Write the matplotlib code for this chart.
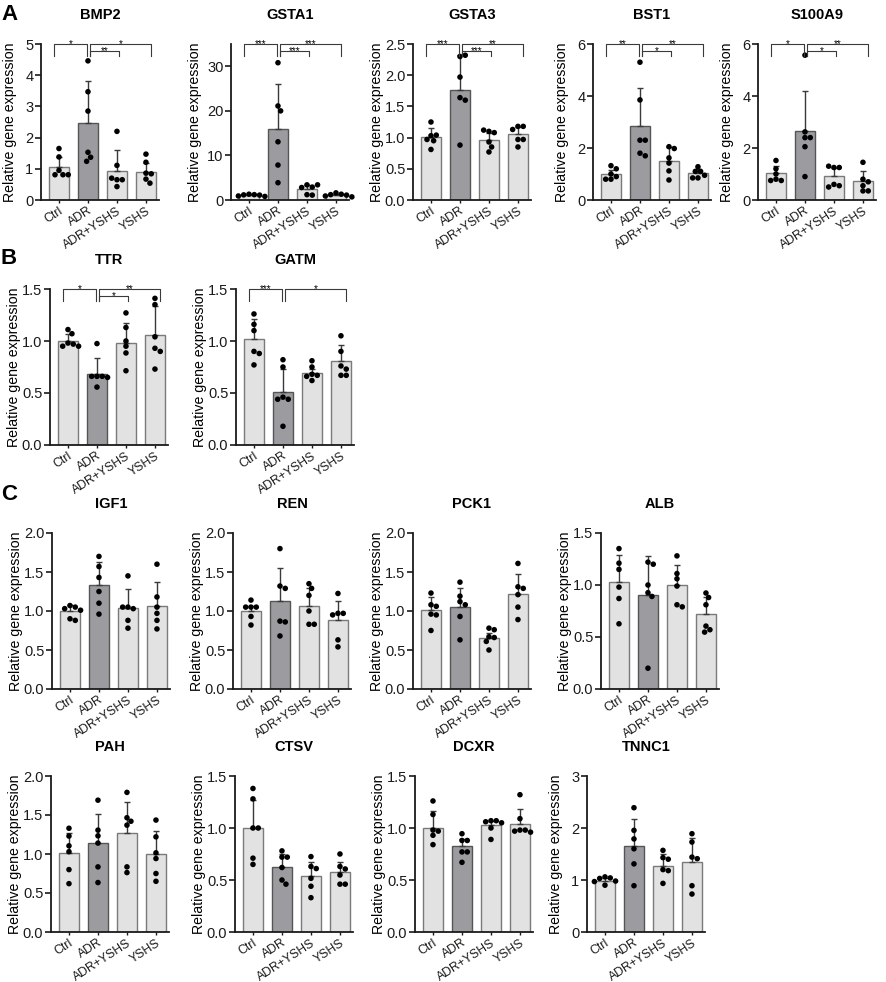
import numpy as np
import matplotlib
matplotlib.use('Agg')
import matplotlib.pyplot as plt
import matplotlib.transforms as mtransforms

plt.rcParams['font.family'] = ['Liberation Sans', 'DejaVu Sans']

groups = ['Ctrl', 'ADR', 'ADR+YSHS', 'YSHS']

# ---------------- data ----------------
BMP2_pts = [[1.65, 1.38, 0.95, 0.81, 0.81, 0.81],
            [4.46, 3.47, 2.85, 1.53, 1.37, 1.24],
            [2.20, 1.11, 0.65, 0.65, 0.70, 0.43],
            [1.47, 1.21, 0.86, 0.84, 0.67, 0.54]]
BMP2_mean = [1.05, 2.47, 0.94, 0.91]
BMP2_sd = [0.32, 1.33, 0.66, 0.29]

GSTA1_pts = [[1.3, 1.2, 1.15, 1.1, 0.9, 0.8],
             [30.8, 21.1, 20.0, 13.06, 7.84, 3.88],
             [3.4, 2.9, 2.8, 3.4, 1.2, 1.1],
             [1.6, 1.3, 1.2, 1.1, 0.9, 0.7]]
GSTA1_mean = [1.08, 15.97, 2.39, 1.10]
GSTA1_sd = [0.2, 10.0, 1.0, 0.3]

GSTA3_pts = [[1.25, 1.03, 1.04, 0.97, 0.81, 0.95],
             [2.30, 2.32, 1.97, 1.64, 1.60, 0.88],
             [1.10, 1.08, 1.12, 0.93, 0.85, 0.77],
             [1.18, 1.18, 1.13, 0.97, 0.97, 0.85]]
GSTA3_mean = [1.01, 1.77, 0.96, 1.05]
GSTA3_sd = [0.15, 0.56, 0.11, 0.12]

BST1_pts = [[1.32, 1.2, 1.0, 0.9, 0.8, 0.8],
            [5.3, 3.85, 2.3, 2.3, 1.8, 1.7],
            [2.05, 1.98, 1.62, 1.42, 1.12, 0.77],
            [1.28, 1.1, 1.1, 0.95, 0.85, 0.85]]
BST1_mean = [1.0, 2.85, 1.5, 1.02]
BST1_sd = [0.17, 1.45, 0.53, 0.18]

S100A9_pts = [[1.52, 1.2, 1.0, 0.8, 0.75, 0.75],
              [5.57, 2.62, 2.4, 2.4, 2.05, 0.9],
              [1.25, 1.25, 1.3, 0.6, 0.55, 0.5],
              [1.45, 0.8, 0.7, 0.55, 0.35, 0.35]]
S100A9_mean = [1.05, 2.65, 0.93, 0.72]
S100A9_sd = [0.27, 1.55, 0.30, 0.40]

TTR_pts = [[1.11, 1.07, 0.98, 0.97, 0.95, 0.95],
           [0.975, 0.66, 0.66, 0.66, 0.65, 0.557],
           [1.27, 1.13, 1.0, 0.95, 0.885, 0.714],
           [1.41, 1.35, 1.04, 0.93, 0.9, 0.73]]
TTR_mean = [1.0, 0.68, 0.985, 1.062]
TTR_sd = [0.07, 0.16, 0.19, 0.27]

GATM_pts = [[1.26, 1.16, 1.1, 0.9, 0.88, 0.77],
            [0.82, 0.75, 0.46, 0.44, 0.44, 0.18],
            [0.81, 0.75, 0.68, 0.67, 0.66, 0.62],
            [1.05, 0.9, 0.76, 0.73, 0.67, 0.67]]
GATM_mean = [1.017, 0.51, 0.69, 0.81]
GATM_sd = [0.19, 0.22, 0.04, 0.15]

IGF1_pts = [[1.07, 1.05, 1.03, 1.01, 0.9, 0.88],
            [1.70, 1.57, 1.43, 1.25, 1.1, 0.96],
            [1.45, 1.05, 1.03, 1.05, 0.88, 0.78],
            [1.6, 1.18, 1.05, 0.97, 0.88, 0.77]]
IGF1_mean = [1.0, 1.336, 1.04, 1.07]
IGF1_sd = [0.08, 0.29, 0.24, 0.30]

REN_pts = [[1.14, 1.05, 1.05, 1.05, 0.93, 0.82],
           [1.8, 1.32, 1.29, 0.87, 0.86, 0.68],
           [1.35, 1.29, 1.2, 1.0, 0.83, 0.83],
           [1.225, 0.97, 0.97, 0.95, 0.63, 0.54]]
REN_mean = [1.0, 1.13, 1.07, 0.88]
REN_sd = [0.07, 0.42, 0.23, 0.25]

PCK1_pts = [[1.23, 1.08, 1.06, 0.96, 0.75, 0.95],
            [1.37, 1.19, 1.12, 1.08, 0.93, 0.63],
            [0.78, 0.76, 0.67, 0.66, 0.61, 0.5],
            [1.61, 1.31, 1.29, 1.21, 1.05, 0.89]]
PCK1_mean = [1.015, 1.05, 0.65, 1.22]
PCK1_sd = [0.16, 0.25, 0.07, 0.26]

ALB_pts = [[1.35, 1.21, 1.15, 0.98, 0.87, 0.627],
           [1.22, 1.2, 1.0, 0.926, 0.89, 0.2],
           [1.28, 1.11, 1.06, 0.99, 0.81, 0.79],
           [0.923, 0.88, 0.81, 0.605, 0.57, 0.547]]
ALB_mean = [1.03, 0.907, 1.0, 0.717]
ALB_sd = [0.26, 0.37, 0.19, 0.167]

PAH_pts = [[1.33, 1.23, 1.105, 1.03, 0.8, 0.62],
           [1.69, 1.306, 1.233, 1.14, 0.835, 0.634],
           [1.79, 1.465, 1.42, 1.37, 0.835, 0.762],
           [1.435, 1.22, 1.015, 0.942, 0.75, 0.65]]
PAH_mean = [1.015, 1.135, 1.263, 0.994]
PAH_sd = [0.255, 0.372, 0.407, 0.299]

CTSV_pts = [[1.38, 1.28, 1.0, 1.0, 0.71, 0.65],
            [0.78, 0.72, 0.72, 0.62, 0.5, 0.46],
            [0.725, 0.63, 0.61, 0.516, 0.44, 0.33],
            [0.75, 0.63, 0.606, 0.548, 0.46, 0.46]]
CTSV_mean = [1.0, 0.623, 0.535, 0.574]
CTSV_sd = [0.274, 0.127, 0.142, 0.103]

DCXR_pts = [[1.26, 1.13, 0.98, 0.97, 0.93, 0.84],
            [0.945, 0.88, 0.88, 0.77, 0.77, 0.67],
            [1.07, 1.07, 1.06, 1.05, 1.0, 0.89],
            [1.32, 1.09, 0.98, 0.98, 0.97, 0.96]]
DCXR_mean = [1.0, 0.826, 1.026, 1.04]
DCXR_sd = [0.16, 0.07, 0.045, 0.147]

TNNC1_pts = [[1.06, 1.04, 1.03, 0.98, 0.97, 0.9],
             [2.39, 1.955, 1.79, 1.6, 1.31, 0.89],
             [1.57, 1.43, 1.40, 1.2, 1.18, 0.935],
             [1.89, 1.73, 1.44, 1.41, 0.89, 0.73]]
TNNC1_mean = [0.987, 1.65, 1.277, 1.34]
TNNC1_sd = [0.045, 0.53, 0.22, 0.466]

# y ticks (values and labels)
ticks_0_5 = ([0, 1, 2, 3, 4, 5], ['0', '1', '2', '3', '4', '5'])
ticks_0_30 = ([0, 10, 20, 30], ['0', '10', '20', '30'])
ticks_0_25 = ([0, 0.5, 1.0, 1.5, 2.0, 2.5], ['0.0', '0.5', '1.0', '1.5', '2.0', '2.5'])
ticks_0_6 = ([0, 2, 4, 6], ['0', '2', '4', '6'])
ticks_0_15 = ([0, 0.5, 1.0, 1.5], ['0.0', '0.5', '1.0', '1.5'])
ticks_0_20 = ([0, 0.5, 1.0, 1.5, 2.0], ['0.0', '0.5', '1.0', '1.5', '2.0'])
ticks_0_3 = ([0, 1, 2, 3], ['0', '1', '2', '3'])

# significance: (group i, group j, label, level)
BMP2_sig = [(0, 1, '*', 0), (1, 2, '**', 1), (1, 3, '*', 0)]
GSTA1_sig = [(0, 1, '***', 0), (1, 2, '***', 1), (1, 3, '***', 0)]
GSTA3_sig = [(0, 1, '***', 0), (1, 2, '***', 1), (1, 3, '**', 0)]
BST1_sig = [(0, 1, '**', 0), (1, 2, '*', 1), (1, 3, '**', 0)]
S100A9_sig = [(0, 1, '*', 0), (1, 2, '*', 1), (1, 3, '**', 0)]
TTR_sig = [(0, 1, '*', 0), (1, 2, '*', 1), (1, 3, '**', 0)]
GATM_sig = [(0, 1, '***', 0), (1, 3, '*', 0)]

# ---------------- layout ----------------
W, H = 886, 982
fig = plt.figure(figsize=(W / 100, H / 100), dpi=100)
AX_W, AX_H = 118, 156
XLIM = (-0.62, 3.45)

panels = [
    # name, pts, mean, sd, ticks, ytop, sig, x0 px, top px
    ('BMP2', BMP2_pts, BMP2_mean, BMP2_sd, ticks_0_5, 5, BMP2_sig, 41, 44),
    ('GSTA1', GSTA1_pts, GSTA1_mean, GSTA1_sd, ticks_0_30, 35, GSTA1_sig, 231, 44),
    ('GSTA3', GSTA3_pts, GSTA3_mean, GSTA3_sd, ticks_0_25, 2.5, GSTA3_sig, 413, 44),
    ('BST1', BST1_pts, BST1_mean, BST1_sd, ticks_0_6, 6, BST1_sig, 593, 44),
    ('S100A9', S100A9_pts, S100A9_mean, S100A9_sd, ticks_0_6, 6, S100A9_sig, 758, 44),
    ('TTR', TTR_pts, TTR_mean, TTR_sd, ticks_0_15, 1.5, TTR_sig, 50, 289),
    ('GATM', GATM_pts, GATM_mean, GATM_sd, ticks_0_15, 1.5, GATM_sig, 236, 289),
    ('IGF1', IGF1_pts, IGF1_mean, IGF1_sd, ticks_0_20, 2.0, [], 52, 533),
    ('REN', REN_pts, REN_mean, REN_sd, ticks_0_20, 2.0, [], 233, 533),
    ('PCK1', PCK1_pts, PCK1_mean, PCK1_sd, ticks_0_20, 2.0, [], 413, 533),
    ('ALB', ALB_pts, ALB_mean, ALB_sd, ticks_0_15, 1.5, [], 601, 533),
    ('PAH', PAH_pts, PAH_mean, PAH_sd, ticks_0_20, 2.0, [], 51, 776),
    ('CTSV', CTSV_pts, CTSV_mean, CTSV_sd, ticks_0_15, 1.5, [], 235, 776),
    ('DCXR', DCXR_pts, DCXR_mean, DCXR_sd, ticks_0_15, 1.5, [], 415, 776),
    ('TNNC1', TNNC1_pts, TNNC1_mean, TNNC1_sd, ticks_0_3, 3, [], 587, 776),
]

LIGHT = '#e2e2e2'
DARK = '#9c9ca0'
EDGE_L = '#7a7a7a'
EDGE_D = '#555555'
DOT_D = 5.3  # px


def swarm_offsets(vals, ppx, ppy, d=DOT_D):
    placed = []
    offs = []
    step = d / 4.0
    cands = [0.0]
    for k in range(1, 40):
        cands += [k * step, -k * step]
    for v in vals:
        yp = v * ppy
        for c in cands:
            ok = True
            for (qx, qy) in placed:
                if (c - qx) ** 2 + (yp - qy) ** 2 < (d * 0.98) ** 2:
                    ok = False
                    break
            if ok:
                break
        placed.append((c, yp))
        offs.append(c / ppx)
    return offs


def bx(k):
    return -0.17 + 1.12 * k


for (name, pts, mean, sd, ticks, ytop, sig, x0, top) in panels:
    ax = fig.add_axes([x0 / W, 1 - (top + AX_H) / H, AX_W / W, AX_H / H])
    ax.set_xlim(*XLIM)
    ax.set_ylim(0, ytop)
    xs = np.arange(len(groups))
    colors = [LIGHT, DARK, LIGHT, LIGHT]
    edges = [EDGE_L, EDGE_D, EDGE_L, EDGE_L]
    ax.bar(xs, mean, width=0.66, color=colors, edgecolor=edges, linewidth=1.0, zorder=2)
    ax.errorbar(xs, mean, yerr=[[0] * 4, sd], fmt='none', ecolor='#3a3a3a',
                elinewidth=1.0, capsize=2.3, capthick=1.0, zorder=3)
    ppx = AX_W / (XLIM[1] - XLIM[0])
    ppy = AX_H / ytop
    for i, g in enumerate(pts):
        offs = swarm_offsets(g, ppx, ppy)
        ax.scatter(i + np.array(offs), g, s=16, color='black', edgecolor='none',
                   zorder=4, clip_on=False)
    ax.set_yticks(ticks[0])
    ax.set_yticklabels(ticks[1], fontsize=10.5)
    ax.set_xticks(xs)
    ax.set_xticklabels(groups, rotation=33, ha='right', va='top',
                       rotation_mode='anchor', fontsize=8.8)
    for s in ['top', 'right']:
        ax.spines[s].set_visible(False)
    for s in ['left', 'bottom']:
        ax.spines[s].set_linewidth(1.3)
        ax.spines[s].set_color('#1a1a1a')
    ax.tick_params(axis='y', direction='out', length=4, width=1.2, pad=1.5, colors='#1a1a1a')
    ax.tick_params(axis='x', direction='out', length=2.0, width=1.0, pad=1.5, colors='#1a1a1a')
    ax.set_ylabel('Relative gene expression', fontsize=10.2, va='center')
    maxlen = max(len(t) for t in ticks[1])
    off = 36 if maxlen >= 2 else 31
    ax.yaxis.set_label_coords(-off / AX_W, 0.5)
    # title
    fig.text((x0 + AX_W / 2) / W, 1 - (top - 29) / H, name, ha='center', va='center',
             fontsize=10.5, fontweight='bold')
    # significance brackets
    trans = mtransforms.blended_transform_factory(ax.transData, ax.transAxes)
    base = 0.925
    for (i, j, lab, lev) in sig:
        yl = 1.0 if lev == 0 else 0.955
        xl = bx(i) + (0.11 if i == 1 else 0.0)
        xr = bx(j)
        ax.plot([xl, xl, xr, xr], [base, yl, yl, base], transform=trans,
                color='#3a3a3a', lw=0.8, clip_on=False, zorder=5)
        ax.text((xl + xr) / 2, yl, lab, transform=trans, ha='center', va='center',
                fontsize=7, clip_on=False)

# panel letters
for lab, yc in [('A', 15), ('B', 258), ('C', 495)]:
    fig.text(9 / W, 1 - yc / H, lab, ha='center', va='center', fontsize=16, fontweight='bold')

fig.savefig('out.png', dpi=100)
